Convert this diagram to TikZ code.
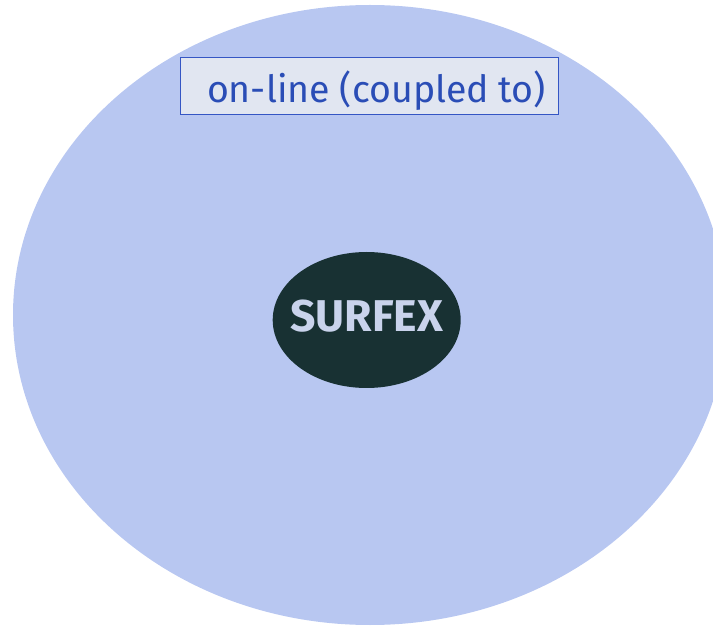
\documentclass[tikz,border=0pt]{standalone}
\usepackage{fontspec}
\setmainfont{Fira Sans}
\usetikzlibrary{shapes.geometric}
\definecolor{outerfill}{HTML}{B8C7F1}
\definecolor{corefill}{HTML}{183133}
\definecolor{coretext}{HTML}{C9D3EC}
\definecolor{tagfill}{HTML}{E1E6F1}
\definecolor{tagline}{HTML}{3556C4}
\definecolor{tagtext}{HTML}{2A4DB6}
\tikzset{
  x=1pt, y=1pt,
  outer/.style={ellipse, fill=outerfill, draw=none, minimum width=714pt, minimum height=620pt, inner sep=0pt},
  core/.style={ellipse, fill=corefill, draw=none, minimum width=188pt, minimum height=136pt, inner sep=0pt,
    text=coretext, text height=30pt, text depth=6.6pt, font=\fontsize{44.5}{44.5}\selectfont\bfseries},
  tag/.style={rectangle, fill=tagfill, draw=tagline, line width=0.8pt, minimum width=378pt, minimum height=57pt,
    inner sep=0pt, text=tagtext, text height=40pt, text depth=5.4pt, font=\fontsize{37.5}{37.5}\selectfont},
}
\begin{document}
\begin{tikzpicture}
  \useasboundingbox (0,0) rectangle (713,625);
  \begin{scope}
    \clip (0,0) rectangle (713,625);
    \node[outer] (world) at (370,310) {};
  \end{scope}
  \node[core] (surfex) at (366.7,305) {\makebox[0pt]{SURFEX}};
  \node[tag] (coupling) at (369,539.3) {\hspace*{15pt}on-line (coupled to)};
\end{tikzpicture}
\end{document}
